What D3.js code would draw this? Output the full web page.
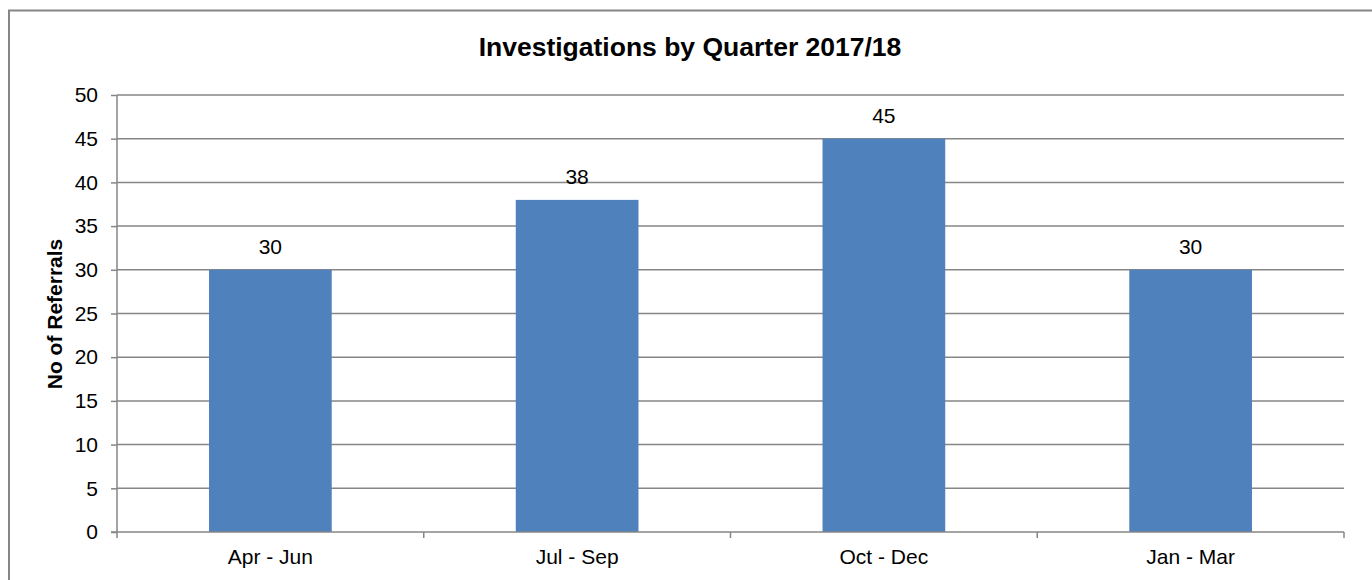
<!DOCTYPE html>
<html>
<head>
<meta charset="utf-8">
<script src="https://cdn.jsdelivr.net/npm/d3@7"></script>
<style>
  html, body { margin: 0; padding: 0; background: #fff; }
  svg text { font-family: "Liberation Sans", Arial, sans-serif; fill: #000; }
</style>
</head>
<body>
<svg id="chart" width="1372" height="580"></svg>
<script>
// Quarterly investigation counts
const quarters = ["Apr - Jun", "Jul - Sep", "Oct - Dec", "Jan - Mar"];
const referrals = [30, 38, 45, 30];
const yTicks = [0, 5, 10, 15, 20, 25, 30, 35, 40, 45, 50];

const svg = d3.select("#chart");
const plot = { left: 117, right: 1344, top: 95, bottom: 532 };

// outer chart frame
svg.append("rect")
  .attr("x", 9).attr("y", 10.5)
  .attr("width", 1400).attr("height", 600)
  .attr("fill", "none").attr("stroke", "#868686").attr("stroke-width", 2);

const x = d3.scaleBand()
  .domain(quarters)
  .range([plot.left, plot.right])
  .paddingInner(0).paddingOuter(0);

const y = d3.scaleLinear()
  .domain([0, 50])
  .range([plot.bottom, plot.top]);

// horizontal gridlines
svg.append("g")
  .selectAll("line")
  .data(yTicks.filter(d => d > 0))
  .join("line")
  .attr("x1", plot.left).attr("x2", plot.right)
  .attr("y1", d => y(d)).attr("y2", d => y(d))
  .attr("stroke", "#868686").attr("stroke-width", 1.5);

// bars
const barFrac = 0.4;
svg.append("g")
  .selectAll("rect")
  .data(referrals)
  .join("rect")
  .attr("x", (d, i) => x(quarters[i]) + x.bandwidth() * (1 - barFrac) / 2)
  .attr("width", x.bandwidth() * barFrac)
  .attr("y", d => y(d))
  .attr("height", d => y(0) - y(d))
  .attr("fill", "#4F81BD");

// y axis
const yAxis = svg.append("g")
  .attr("transform", `translate(${plot.left},0)`)
  .call(d3.axisLeft(y).tickValues(yTicks).tickSize(6).tickPadding(13));
yAxis.selectAll("path, line").attr("stroke", "#868686").attr("stroke-width", 1.5);
yAxis.select(".domain").attr("d", `M0,${plot.top}V${plot.bottom}`);
yAxis.selectAll("text")
  .style("font-family", "'Liberation Sans', Arial, sans-serif")
  .style("font-size", "21px").attr("fill", "#000");

// x axis with tick marks at category boundaries
const xg = svg.append("g").attr("transform", `translate(0,${plot.bottom})`);
xg.append("line")
  .attr("x1", plot.left - 6).attr("x2", plot.right)
  .attr("stroke", "#868686").attr("stroke-width", 1.5);
const bounds = quarters.map(q => x(q)).concat([x(quarters[quarters.length - 1]) + x.bandwidth()]);
xg.selectAll("line.tick")
  .data(bounds)
  .join("line").attr("class", "tick")
  .attr("x1", d => d).attr("x2", d => d)
  .attr("y1", 0).attr("y2", 6)
  .attr("stroke", "#868686").attr("stroke-width", 1.5);
xg.selectAll("text")
  .data(quarters)
  .join("text")
  .attr("x", d => x(d) + x.bandwidth() / 2)
  .attr("y", 32)
  .attr("text-anchor", "middle")
  .style("font-size", "21px")
  .text(d => d);

// value labels
svg.append("g")
  .selectAll("text")
  .data(referrals)
  .join("text")
  .attr("x", (d, i) => x(quarters[i]) + x.bandwidth() / 2)
  .attr("y", d => y(d) - 16)
  .attr("text-anchor", "middle")
  .style("font-size", "21px")
  .text(d => d);

// title
svg.append("text")
  .attr("x", 690).attr("y", 56)
  .attr("text-anchor", "middle")
  .style("font-size", "26.5px").style("font-weight", "bold")
  .text("Investigations by Quarter 2017/18");

// y axis title
svg.append("text")
  .attr("transform", "translate(62,314) rotate(-90)")
  .attr("text-anchor", "middle")
  .style("font-size", "21px").style("font-weight", "bold")
  .text("No of Referrals");
</script>
</body>
</html>
